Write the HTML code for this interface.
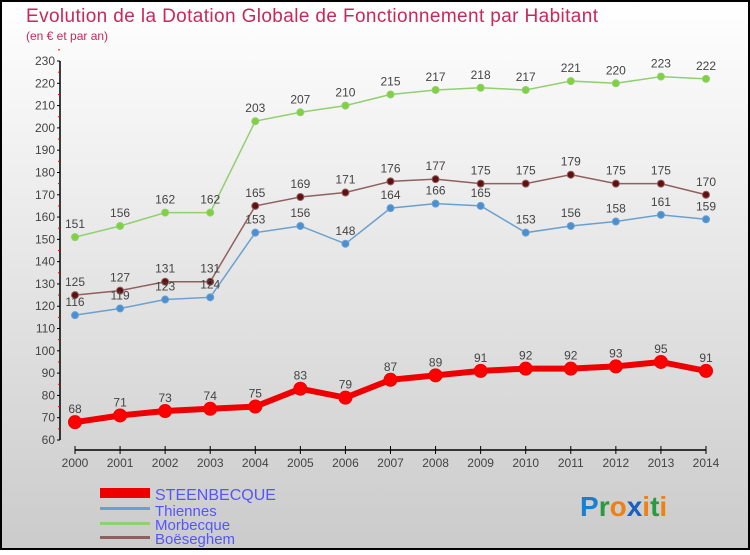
<!DOCTYPE html>
<html><head><meta charset="utf-8"><style>
body{margin:0;width:750px;height:550px;overflow:hidden;font-family:"Liberation Sans",sans-serif}
</style></head><body>
<svg id="chart" width="750" height="550" xmlns="http://www.w3.org/2000/svg">
<defs><linearGradient id="bg" x1="0" y1="0" x2="0" y2="1"><stop offset="0" stop-color="#ffffff"/><stop offset="1" stop-color="#cbcbcb"/></linearGradient></defs>
<rect x="1" y="1" width="748" height="548" fill="url(#bg)" stroke="#000" stroke-width="2"/>
<text x="26" y="22" font-size="19" fill="#c8285a" textLength="572">Evolution de la Dotation Globale de Fonctionnement par Habitant</text>
<text x="26" y="40" font-size="12" fill="#c8285a">(en € et par an)</text>
<g id="axes"></g><g id="series"></g>
<g>
<rect x="100" y="488" width="50" height="10" fill="#e00"/>
<text x="155" y="500" font-size="16" fill="#5555ff">STEENBECQUE</text>
<rect x="100" y="507" width="50" height="3" fill="#6aa0d0"/>
<text x="155" y="516" font-size="15" fill="#5555ff">Thiennes</text>
<rect x="100" y="522" width="50" height="3" fill="#90d070"/>
<text x="155" y="530" font-size="15" fill="#5555ff">Morbecque</text>
<rect x="100" y="536" width="50" height="3" fill="#906060"/>
<text x="155" y="544" font-size="15" fill="#5555ff">Boëseghem</text>
</g>
<text x="580" y="516" font-size="28" font-weight="bold"><tspan fill="#1a7fd0">P</tspan><tspan fill="#2a9a40">r</tspan><tspan fill="#f08010">o</tspan><tspan fill="#1a60c0">x</tspan><tspan fill="#f08010">i</tspan><tspan fill="#2a9a40">t</tspan><tspan fill="#f08010">i</tspan></text>
</svg>
<script>
const years=[2000,2001,2002,2003,2004,2005,2006,2007,2008,2009,2010,2011,2012,2013,2014];
const yTicks=[60,70,80,90,100,110,120,130,140,150,160,170,180,190,200,210,220,230];
const steenbecque=[68,71,73,74,75,83,79,87,89,91,92,92,93,95,91];
const thiennes=[116,119,123,124,153,156,148,164,166,165,153,156,158,161,159];
const morbecque=[151,156,162,162,203,207,210,215,217,218,217,221,220,223,222];
const boeseghem=[125,127,131,131,165,169,171,176,177,175,175,179,175,175,170];
const NS="http://www.w3.org/2000/svg";
function X(i){return 75+i*(706-75)/(years.length-1);}
function Y(v){return 440-(v-60)*(440-61)/170;}
function el(t,a,p){const e=document.createElementNS(NS,t);for(const k in a)e.setAttribute(k,a[k]);p.appendChild(e);return e;}
const ax=document.getElementById('axes');
let l=el('line',{x1:60,y1:Y(230),x2:60,y2:Y(60),stroke:'#000','stroke-width':1.5},ax);


yTicks.forEach(v=>{
 el('line',{x1:57,y1:Y(v),x2:60,y2:Y(v),stroke:'#000'},ax);
 el('line',{x1:58,y1:Y(v+5),x2:60,y2:Y(v+5),stroke:'#e00'},ax);
 const t=el('text',{x:55,y:Y(v)+4,'font-size':12,fill:'#444','text-anchor':'end'},ax);t.textContent=v;
 
 
});
l=el('line',{x1:75,y1:450,x2:706,y2:450,stroke:'#000','stroke-width':1.5},ax);


years.forEach((y,i)=>{
 el('line',{x1:X(i),y1:446,x2:X(i),y2:454,stroke:'#000'},ax);
 const t=el('text',{x:X(i),y:467,'font-size':12,fill:'#444','text-anchor':'middle'},ax);t.textContent=y;
 
 
});
const sg=document.getElementById('series');
function draw(name,data,color,dot,w,r){
 const g=el('g',{},sg);
 
 
 const p=el('polyline',{points:data.map((v,i)=>X(i)+','+Y(v)).join(' '),fill:'none',stroke:color,'stroke-width':w},g);
 
 
 data.forEach((v,i)=>{
  const c=el('circle',{cx:X(i),cy:Y(v),r:r,fill:dot,stroke:color,'stroke-width':1},g);
  
  
  const t=el('text',{x:X(i),y:Y(v)-9,'font-size':12,fill:'#444','text-anchor':'middle'},g);t.textContent=v;
  
  
 });
}
draw('morbecque',morbecque,'#90d070','#80d040',1.5,3.5);
draw('boeseghem',boeseghem,'#906060','#601010',1.5,3.5);
draw('thiennes',thiennes,'#6aa0d0','#4a90d0',1.5,3.5);
draw('steenbecque',steenbecque,'#e00','#f00',6,6.5);
</script>
</body></html>
